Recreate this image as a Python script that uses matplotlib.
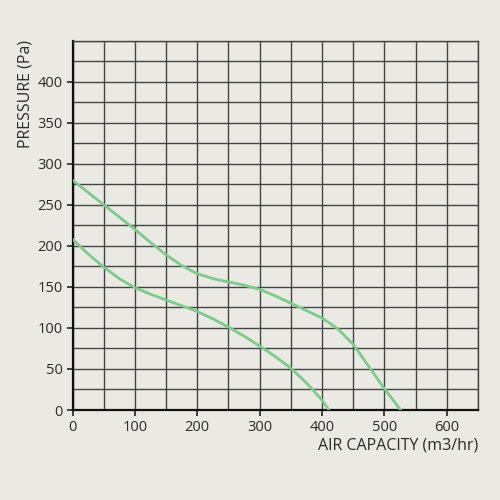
import numpy as np
import matplotlib.pyplot as plt

# fan curves
upper_x = [0, 25, 50, 75, 100, 125, 150, 175, 200, 225, 250, 275, 300, 325, 350,
           375, 400, 425, 450, 475, 500, 526]
upper_y = [280, 265, 250, 235, 220, 204, 189, 176, 166, 160, 156, 152, 147, 139, 130,
           121, 112, 99, 80, 53, 26, 0]
lower_x = [0, 25, 50, 75, 100, 125, 150, 175, 200, 225, 250, 275, 300, 325, 350,
           375, 400, 411]
lower_y = [208, 190, 174, 160, 149, 141, 134, 127, 120, 111, 101, 90, 78, 65, 51,
           33, 12, 0]

x_ticks = [0, 100, 200, 300, 400, 500, 600]
y_ticks = [0, 50, 100, 150, 200, 250, 300, 350, 400]

bg = '#ebe9e4'
green = '#7ccb8a'
txt = '#2b2b2b'

plt.rcParams['font.family'] = ['Open Sans', 'DejaVu Sans']

fig = plt.figure(figsize=(5, 5), dpi=100, facecolor=bg)
ax = fig.add_axes([0.145, 0.18, 0.811, 0.739])
ax.set_facecolor(bg)

ax.plot(upper_x, upper_y, color=green, lw=2.0, solid_capstyle='round', zorder=3)
ax.plot(lower_x, lower_y, color=green, lw=2.0, solid_capstyle='round', zorder=3)

ax.set_xlim(0, 650)
ax.set_ylim(0, 450)
ax.set_xticks(x_ticks)
ax.set_yticks(y_ticks)
ax.set_xticks(np.arange(0, 651, 50), minor=True)
ax.set_yticks(np.arange(0, 451, 25), minor=True)
ax.grid(which='both', color='#444444', lw=1.0, zorder=1)
ax.tick_params(which='minor', length=0)
ax.tick_params(which='major', length=4, width=1.2, color='#222222',
               labelsize=10.5, labelcolor=txt, pad=3)

for s in ['top', 'right']:
    ax.spines[s].set_color('#444444')
    ax.spines[s].set_linewidth(1.0)
for s in ['left', 'bottom']:
    ax.spines[s].set_color('#111111')
    ax.spines[s].set_linewidth(1.6)

ax.set_xlabel('AIR CAPACITY (m3/hr)', fontsize=11.5, color=txt, loc='right', labelpad=2)
ax.set_ylabel('PRESSURE (Pa)', fontsize=11.5, color=txt, loc='top', labelpad=3)

fig.savefig('out.png', dpi=100, facecolor=bg)
